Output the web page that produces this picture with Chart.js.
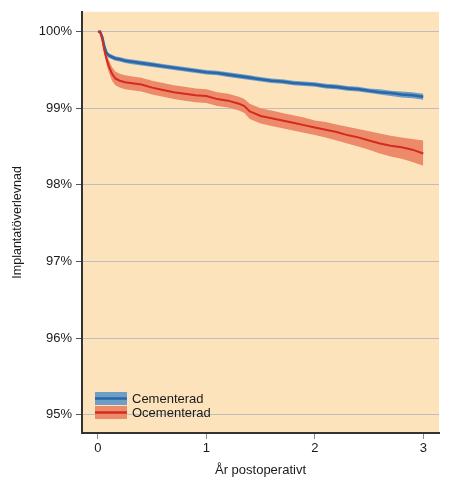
<!DOCTYPE html>
<html>
<head>
<meta charset="utf-8">
<script src="https://cdn.jsdelivr.net/npm/chart.js@4/dist/chart.umd.min.js"></script>
<style>
  body { margin: 0; background: #ffffff; }
  #wrap { width: 450px; height: 487px; }
</style>
</head>
<body>
<div id="wrap"><canvas id="chart1" width="450" height="487"></canvas></div>
<script>
// years after operation
var years = [0, 0.02, 0.04, 0.06, 0.08, 0.1, 0.13, 0.16, 0.2, 0.25,
             0.3, 0.4, 0.5, 0.6, 0.7, 0.8, 0.9, 1.0, 1.1, 1.2,
             1.3, 1.35, 1.4, 1.45, 1.5, 1.6, 1.7, 1.8, 1.9, 2.0,
             2.1, 2.2, 2.3, 2.4, 2.5, 2.6, 2.7, 2.8, 2.9, 3.0];

// Cementerad
var cemValues = [100, 100, 99.93, 99.80, 99.72, 99.69, 99.67, 99.65, 99.64, 99.62,
                 99.61, 99.59, 99.57, 99.55, 99.53, 99.51, 99.49, 99.47, 99.46, 99.44,
                 99.42, 99.41, 99.40, 99.39, 99.38, 99.36, 99.35, 99.33, 99.32, 99.31,
                 99.29, 99.28, 99.26, 99.25, 99.23, 99.21, 99.20, 99.18, 99.17, 99.15];
var cemHigh = [100, 100, 99.95, 99.83, 99.75, 99.72, 99.70, 99.68, 99.67, 99.65,
               99.64, 99.62, 99.60, 99.58, 99.56, 99.54, 99.52, 99.50, 99.49, 99.47,
               99.45, 99.44, 99.43, 99.42, 99.41, 99.39, 99.38, 99.36, 99.35, 99.34,
               99.32, 99.31, 99.29, 99.28, 99.26, 99.25, 99.23, 99.22, 99.21, 99.19];
var cemLow = [100, 100, 99.91, 99.77, 99.69, 99.66, 99.64, 99.62, 99.61, 99.59,
              99.58, 99.56, 99.54, 99.52, 99.50, 99.48, 99.46, 99.44, 99.43, 99.41,
              99.39, 99.38, 99.37, 99.36, 99.35, 99.33, 99.32, 99.30, 99.29, 99.28,
              99.26, 99.25, 99.23, 99.22, 99.20, 99.18, 99.16, 99.14, 99.13, 99.11];

// Ocementerad
var ocemValues = [100, 100, 99.90, 99.75, 99.64, 99.55, 99.45, 99.39, 99.36, 99.34,
                  99.33, 99.31, 99.27, 99.24, 99.21, 99.19, 99.17, 99.16, 99.12, 99.10,
                  99.06, 99.03, 98.96, 98.93, 98.90, 98.87, 98.84, 98.81, 98.78, 98.75,
                  98.72, 98.69, 98.65, 98.62, 98.58, 98.54, 98.51, 98.49, 98.46, 98.41];
var ocemHigh = [100, 100, 99.93, 99.80, 99.71, 99.63, 99.54, 99.48, 99.45, 99.43,
                99.42, 99.40, 99.36, 99.33, 99.30, 99.28, 99.26, 99.25, 99.21, 99.19,
                99.15, 99.12, 99.06, 99.03, 99.00, 98.97, 98.94, 98.91, 98.88, 98.84,
                98.82, 98.79, 98.76, 98.73, 98.70, 98.67, 98.64, 98.62, 98.60, 98.58];
var ocemLow = [100, 100, 99.87, 99.70, 99.57, 99.47, 99.36, 99.30, 99.27, 99.25,
               99.24, 99.22, 99.18, 99.15, 99.12, 99.10, 99.08, 99.07, 99.03, 99.01,
               98.97, 98.94, 98.86, 98.83, 98.80, 98.77, 98.74, 98.71, 98.68, 98.65,
               98.62, 98.58, 98.54, 98.50, 98.46, 98.41, 98.37, 98.34, 98.30, 98.25];

var seriesNames = ['Cementerad', 'Ocementerad'];
var yTicks = [95, 96, 97, 98, 99, 100];
var xTicks = [0, 1, 2, 3];

var FONT = "'Liberation Sans', Arial, sans-serif";
var BLUE = '#2a66a8', BLUE_BAND = '#6e9ec6';
var RED = '#d52a1f', RED_BAND = '#ec8a69';

function pts(ys){
    var out = [];
    for(var i = 0; i < years.length; i++){
        out.push({x: years[i], y: ys[i]});
    }
    return out;
}

var bgPlugin = {
    id: 'bg',
    beforeDraw: function(chart){
        var a = chart.chartArea, c = chart.ctx;
        c.save();
        c.fillStyle = '#fde3bc';
        c.fillRect(a.left, a.top, a.right - a.left, a.bottom - a.top);
        c.restore();
    }
};

// legend: band swatch with line through it
var legendPlugin = {
    id: 'kmLegend',
    afterDraw: function(chart){
        var a = chart.chartArea, c = chart.ctx;
        var bands = [BLUE_BAND, RED_BAND], lines = [BLUE, RED];
        var x0 = a.left + 13, y0 = a.bottom - 41;
        c.save();
        for(var i = 0; i < seriesNames.length; i++){
            var y = y0 + i * 14;
            c.fillStyle = bands[i];
            c.fillRect(x0, y, 32, 13);
            c.strokeStyle = lines[i];
            c.lineWidth = 2.5;
            c.beginPath();
            c.moveTo(x0, y + 6.5);
            c.lineTo(x0 + 32, y + 6.5);
            c.stroke();
            c.fillStyle = '#1a1a1a';
            c.font = '13px ' + FONT;
            c.textBaseline = 'middle';
            c.textAlign = 'left';
            c.fillText(seriesNames[i], x0 + 37, y + 7);
        }
        c.restore();
    }
};

// lower order = drawn on top, so the lines go over the bands
var ctx = document.getElementById('chart1').getContext('2d');
var chart = new Chart(ctx, {
    type: 'line',
    data: {
        datasets: [
            {data: pts(cemLow), order: 3, borderWidth: 0, pointRadius: 0, fill: false, backgroundColor: BLUE_BAND},
            {data: pts(cemHigh), order: 3, borderWidth: 0, pointRadius: 0, fill: '-1', backgroundColor: BLUE_BAND},
            {data: pts(cemValues), order: 1, borderColor: BLUE, borderWidth: 2.6, pointRadius: 0, fill: false},
            {data: pts(ocemLow), order: 2, borderWidth: 0, pointRadius: 0, fill: false, backgroundColor: RED_BAND},
            {data: pts(ocemHigh), order: 2, borderWidth: 0, pointRadius: 0, fill: '-1', backgroundColor: RED_BAND},
            {data: pts(ocemValues), order: 0, borderColor: RED, borderWidth: 2, pointRadius: 0, fill: false}
        ]
    },
    options: {
        responsive: false,
        animation: false,
        layout: { padding: { top: 8, right: 11, left: 0, bottom: 0 } },
        plugins: { legend: { display: false }, tooltip: { enabled: false } },
        scales: {
            x: {
                type: 'linear',
                min: -0.147,
                max: 3.145,
                afterBuildTicks: function(s){ s.ticks = xTicks.map(function(v){ return {value: v}; }); },
                afterFit: function(s){ s.height = 54; },
                grid: { drawOnChartArea: false, tickLength: 6, tickColor: '#8a8a8a' },
                border: { color: '#333333', width: 2 },
                ticks: { color: '#1a1a1a', padding: 2, font: { family: FONT, size: 13 } },
                title: { display: true, text: 'År postoperativt', color: '#1a1a1a',
                         padding: { top: 0, bottom: 9 }, font: { family: FONT, size: 13 } }
            },
            y: {
                min: 94.76,
                max: 100.26,
                afterBuildTicks: function(s){ s.ticks = yTicks.map(function(v){ return {value: v}; }); },
                afterFit: function(s){ s.width = 82; },
                grid: { color: '#bdbdbd', lineWidth: 1, tickLength: 6, tickColor: '#555555' },
                border: { color: '#333333', width: 2 },
                ticks: { color: '#1a1a1a', padding: 4, font: { family: FONT, size: 13 },
                         callback: function(v){ return v + '%'; } },
                title: { display: true, text: 'Implantatöverlevnad', color: '#1a1a1a',
                         padding: { top: 10, bottom: 0 }, font: { family: FONT, size: 12.5 } }
            }
        }
    },
    plugins: [bgPlugin, legendPlugin]
});
</script>
</body>
</html>
